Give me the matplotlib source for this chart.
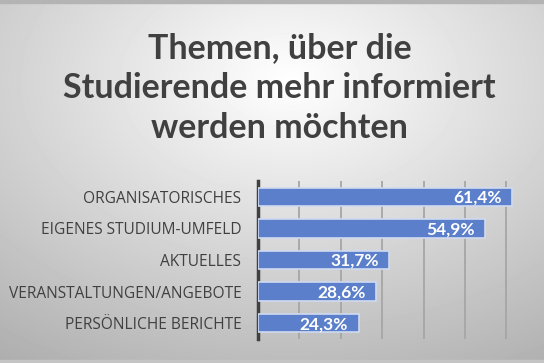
import numpy as np
import matplotlib.pyplot as plt

# Survey data
categories = ['ORGANISATORISCHES', 'EIGENES STUDIUM-UMFELD', 'AKTUELLES',
              'VERANSTALTUNGEN/ANGEBOTE', 'PERSÖNLICHE BERICHTE']
values = [61.4, 54.9, 31.7, 28.6, 24.3]
value_labels = ['61,4%', '54,9%', '31,7%', '28,6%', '24,3%']
title = 'Themen, über die\nStudierende mehr informiert\nwerden möchten'

fig = plt.figure(figsize=(5.44, 3.63), dpi=100)

# radial gray background
bg = fig.add_axes([0, 0, 1, 1])
yy, xx = np.mgrid[0:363, 0:544]
r = np.sqrt(((xx - 290) / 544.0) ** 2 + ((yy - 80) / 363.0) ** 2)
shade = np.clip(1.0 - 0.34 * r, 0, 1)
bg.imshow(shade, cmap='gray', vmin=0, vmax=1, aspect='auto', extent=[0, 544, 363, 0])
bg.axhspan(0, 2.5, color='#b4b4b4')
bg.axhspan(360, 363, color='#c4c4c4')
bg.set_xlim(0, 544)
bg.set_ylim(363, 0)
bg.axis('off')

fig.text(0.514, 0.757, title, ha='center', va='center', fontsize=24.5,
         fontweight='bold', color='#404040', family='Lato', linespacing=1.3)

ax = fig.add_axes([258 / 544, 24 / 363, 262 / 544, 158 / 363])
ax.patch.set_alpha(0)
y = np.arange(len(categories))
ax.barh(y, values, height=0.58, color='#5b7fcb', edgecolor='#d0dbf0', linewidth=1.2, zorder=3)
for yi, v, lab in zip(y, values, value_labels):
    ax.text(v - 2.5, yi + 0.03, lab, ha='right', va='center', color='white',
            fontsize=12.5, fontweight='bold', family='Lato', zorder=4)

ax.set_xlim(0, 63.3)
ax.set_ylim(len(categories) - 0.5, -0.5)
ax.set_xticks(np.arange(10, 61, 10))
ax.set_xticklabels([])
ax.tick_params(length=0)
ax.grid(axis='x', color='#a6a6a6', linewidth=1.3, zorder=0)
ax.set_yticks(y)
ax.set_yticklabels(categories, fontsize=11.2, color='#404040', family='Open Sans')
ax.tick_params(axis='y', pad=12)
for s in ['top', 'right', 'bottom']:
    ax.spines[s].set_visible(False)
ax.spines['left'].set_color('#404040')
ax.spines['left'].set_linewidth(2.5)

fig.savefig('out.png', dpi=100)
